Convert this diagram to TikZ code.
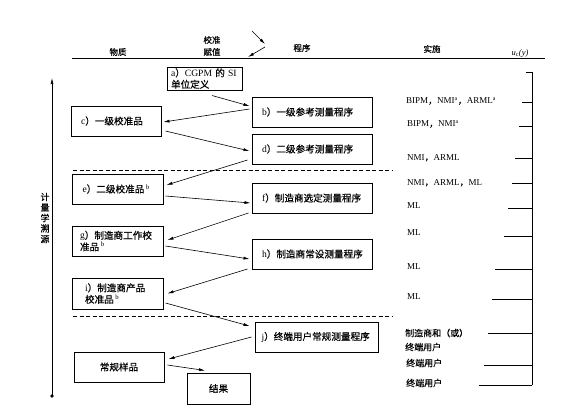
\documentclass[tikz,border=0pt]{standalone}
\usepackage{fontspec}
\setmainfont{Noto Sans CJK SC}[FakeBold=0.5]
\newfontfamily\lat{Liberation Serif}
\usetikzlibrary{arrows.meta,calc}

\begin{document}
\begin{tikzpicture}[x=1pt,y=-1pt,
    flow/.style={-{Latex[length=6pt,width=3pt]},line width=0.6pt},
    matbox/.style={draw,line width=1pt,minimum height=30pt,inner ysep=0pt,
      align=left,font=\fontsize{9.6}{11.5}\selectfont},
    head/.style={inner sep=0pt,align=center,font=\fontsize{8.5}{12}\selectfont},
    impl/.style={anchor=west,inner sep=0pt,align=left,font=\fontsize{9}{14}\selectfont}
  ]
  \useasboundingbox (0,0) rectangle (573,408);

  % header
  \node[head] (hsub) at (118,52) {物质};
  \node[head] (hcal) at (212,46) {校准\\赋值};
  \node[head] (hproc) at (302,48) {程序};
  \node[head] (himpl) at (432,49) {实施};
  \node[head] (hunc) at (520,53) {\lat\itshape u\textsubscript{\upshape c}(y)};
  \draw[line width=0.8pt] (72,58) -- (545,58);
  \coordinate (k1) at (252,31);
  \coordinate (k2) at (265,44);
  \coordinate (k3) at (265,47);
  \coordinate (k4) at (248,57);
  \draw[flow] (k1) -- (k2);
  \draw[flow] (k3) -- (k4);

  % traceability axis
  \coordinate (tbot) at (52,396);
  \coordinate (ttop) at (52,78);
  \fill (tbot) circle (1.8);
  \draw[flow] (tbot) -- (ttop);
  \node[align=center,inner sep=0pt,font=\fontsize{9}{10.5}\selectfont] (trace) at (45,218)
    {计\\量\\学\\溯\\源};

  % boxes
  \node[matbox,text width=67pt,inner xsep=4pt,minimum height=23pt] (a) at (204.5,78.5)
    {{\lat a}）{\lat CGPM} 的 {\lat SI}\\单位定义};
  \node[matbox,text width=100pt,inner xsep=10pt] (b) at (312,112) {{\lat b}）一级参考测量程序};
  \node[matbox,text width=70pt,inner xsep=10pt] (c) at (116,121) {{\lat c}）一级校准品};
  \node[matbox,text width=100pt,inner xsep=10pt] (d) at (312,149) {{\lat d}）二级参考测量程序};
  \node[matbox,text width=70pt,inner xsep=10.5pt] (e) at (117.5,189)
    {{\lat e}）二级校准品\,\textsuperscript{\lat b}};
  \node[matbox,text width=100pt,inner xsep=10pt] (f) at (312,198) {{\lat f}）制造商选定测量程序};
  \node[matbox,text width=75pt,inner xsep=8pt] (g) at (117.5,241)
    {{\lat g}）制造商工作校\\准品\,\textsuperscript{\lat b}};
  \node[matbox,text width=100pt,inner xsep=10pt] (h) at (312,254) {{\lat h}）制造商常设测量程序};
  \node[matbox,text width=65pt,inner xsep=13pt,minimum height=31pt] (i) at (117.5,293.5)
    {{\lat i}）制造商产品\\校准品\,\textsuperscript{\lat b}};
  \node[matbox,text width=110pt,inner xsep=6.5pt] (j) at (316.5,337) {{\lat j}）终端用户常规测量程序};
  \node[matbox,text width=70pt,inner xsep=10pt,align=center] (p) at (119,367) {常规样品};
  \node[matbox,text width=43pt,inner xsep=10pt,align=center,minimum height=31pt] (r) at (218.5,388.5) {结果};

  % dashed separators
  \draw[line width=0.7pt,dash pattern=on 4pt off 2.5pt] (73,170.5) -- (393,170.5);
  \draw[line width=0.7pt,dash pattern=on 4pt off 2.5pt] (73,316) -- (393,316);

  % value assignment chain
  \draw[flow] ($(a.south)+(7.5,5)$) -- ($(b.west)+(-2,-6)$);
  \draw[flow] ($(b.west)+(-2,-3)$) -- ($(c.east)+(2,1)$);
  \draw[flow] ($(c.east)+(4,10)$) -- ($(d.west)+(-2,2)$);
  \draw[flow] ($(d.west)+(-4,11)$) -- ($(e.east)+(3,-4)$);
  \draw[flow] ($(e.east)+(2,7)$) -- ($(f.west)+(-1,5)$);
  \draw[flow] ($(f.west)+(-3,15)$) -- ($(g.east)+(4,-1)$);
  \draw[flow] ($(g.east)+(2,5)$) -- ($(h.west)+(-2,5)$);
  \draw[flow] ($(h.west)+(-4,15)$) -- ($(i.east)+(4,0)$);
  \draw[flow] ($(i.east)+(2,9.5)$) -- ($(j.west)+(-5,-11)$);
  \draw[flow] ($(j.west)+(-3,0)$) -- ($(p.east)+(4,-8)$);
  \draw[flow] ($(p.east)+(3,-2)$) -- ($(r.north)+(-13.5,-2)$);

  % implementation
  \node[impl] (m1) at (406,101) {{\lat BIPM}，{\lat NMI\textsuperscript{a}}，{\lat ARML\textsuperscript{a}}};
  \node[impl] (m2) at (407,124) {{\lat BIPM}，{\lat NMI\textsuperscript{a}}};
  \node[impl] (m3) at (407,158) {{\lat NMI}，{\lat ARML}};
  \node[impl] (m4) at (407,183) {{\lat NMI}，{\lat ARML}，{\lat ML}};
  \node[impl] (m5) at (407,206) {\lat ML};
  \node[impl] (m6) at (407,233) {\lat ML};
  \node[impl] (m7) at (407,267) {\lat ML};
  \node[impl] (m8) at (407,297) {\lat ML};
  \node[impl] (m9) at (405,340) {制造商和（或）\\终端用户};
  \node[impl] (m10) at (406,363) {终端用户};
  \node[impl] (m11) at (406,383) {终端用户};

  % uncertainty bracket
  \draw[line width=0.6pt] (532,72) -- (532,385);
  \foreach \y/\l in {72/526,102/522,126/519,158/515,183/512,208/508,
      236/504,269/495,299/492,333/488,365/484,385/479}
    \draw[line width=0.6pt] (\l,\y) -- (532,\y);
\end{tikzpicture}
\end{document}
